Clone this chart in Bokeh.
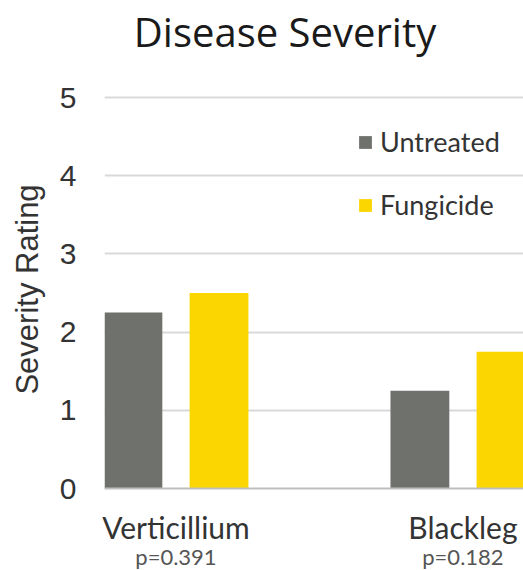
from bokeh.plotting import figure
from bokeh.models import Range1d, FixedTicker, LinearAxis, Legend, LegendItem, ColumnDataSource
from bokeh.transform import dodge
from bokeh.embed import file_html
from bokeh.resources import INLINE

title_text = "Disease Severity"
categories = ["Verticillium", "Blackleg"]
p_values = ["p=0.391", "p=0.182"]
untreated = [2.25, 1.25]
fungicide = [2.5, 1.75]
y_ticks = [0, 1, 2, 3, 4, 5]

GRAY = "#6E716C"
YELLOW = "#FCD600"

xs = list(range(len(categories)))
src = ColumnDataSource(dict(x=xs, untreated=untreated, fungicide=fungicide))

p = figure(width=523, height=570, output_backend="svg", toolbar_location=None,
           x_range=Range1d(-0.249, 1.211), y_range=Range1d(0, 5.09),
           min_border_left=104, min_border_right=0, min_border_top=90, min_border_bottom=82,
           frame_width=419, frame_height=398)
p.outline_line_color = None
p.background_fill_color = "white"
p.border_fill_color = "white"

xax = p.below[0]
yax = p.left[0]

r1 = p.vbar(x=dodge("x", -0.15, range=p.x_range), top="untreated", width=0.205, source=src,
            fill_color=GRAY, line_color=None)
r2 = p.vbar(x=dodge("x", 0.15, range=p.x_range), top="fungicide", width=0.205, source=src,
            fill_color=YELLOW, line_color=None)

# y axis
yax.ticker = FixedTicker(ticks=y_ticks)
yax.axis_line_color = None
yax.major_tick_line_color = None
yax.minor_tick_line_color = None
yax.major_label_standoff = 22
yax.major_label_text_font = "Liberation Sans"
yax.major_label_text_font_size = "30px"
yax.major_label_text_color = "#333333"
yax.axis_label = "Severity Rating"
yax.axis_label_text_font = "Liberation Sans"
yax.axis_label_text_font_size = "31px"
yax.axis_label_text_font_style = "normal"
yax.axis_label_text_color = "#333333"
yax.axis_label_standoff = 12

p.ygrid.ticker = FixedTicker(ticks=y_ticks[1:])
p.ygrid.grid_line_color = "#D9D9D9"
p.ygrid.grid_line_width = 2
p.xgrid.grid_line_color = None

# x axis: categories
xax.ticker = FixedTicker(ticks=xs)
xax.major_label_overrides = {i: c for i, c in zip(xs, categories)}
xax.axis_line_color = "#BFBFBF"
xax.axis_line_width = 2
xax.major_tick_line_color = None
xax.minor_tick_line_color = None
xax.major_label_standoff = 14
xax.major_label_text_font = "Lato"
xax.major_label_text_font_size = "30px"
xax.major_label_text_color = "#333333"

# p-values on a second, bare axis below
pax = LinearAxis(ticker=FixedTicker(ticks=xs),
                 major_label_overrides={i: v for i, v in zip(xs, p_values)})
pax.axis_line_color = None
pax.major_tick_line_color = None
pax.minor_tick_line_color = None
pax.major_label_standoff = -11
pax.major_label_text_font = "Lato"
pax.major_label_text_font_size = "22px"
pax.major_label_text_color = "#555555"
p.add_layout(pax, "below")

# title drawn as the single label of a bare axis above the frame
title_pos = 0.38
tax = LinearAxis(ticker=FixedTicker(ticks=[title_pos]),
                 major_label_overrides={title_pos: title_text})
tax.axis_line_color = None
tax.major_tick_line_color = None
tax.minor_tick_line_color = None
tax.major_label_standoff = 26
tax.major_label_text_font = "Open Sans"
tax.major_label_text_font_size = "40px"
tax.major_label_text_color = "#1a1a1a"
p.add_layout(tax, "above")

legend = Legend(items=[LegendItem(label="Untreated", renderers=[r1]),
                       LegendItem(label="Fungicide", renderers=[r2])],
                location=(253, 267))
legend.border_line_color = None
legend.background_fill_alpha = 0
legend.padding = 0
legend.margin = 0
legend.spacing = 30
legend.glyph_width = 16
legend.glyph_height = 16
legend.label_text_font = "Lato"
legend.label_text_font_size = "27px"
legend.label_text_color = "#333333"
legend.label_standoff = 7
p.add_layout(legend)

open("out.html", "w").write(file_html(p, INLINE))
